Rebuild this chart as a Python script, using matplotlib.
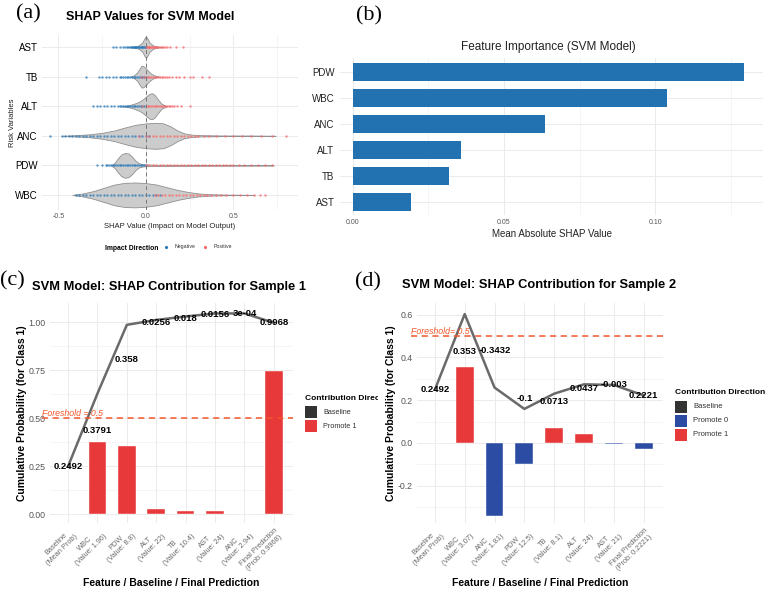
import matplotlib
matplotlib.use('Agg')
import matplotlib.pyplot as plt
from matplotlib.patches import Rectangle
from matplotlib.lines import Line2D
from matplotlib.transforms import Bbox, TransformedBbox, blended_transform_factory
import numpy as np

plt.rcParams['font.family'] = ['Liberation Sans', 'DejaVu Sans']

# ---------------- data ----------------
# (a) SHAP beeswarm / violin
shap_features = ['AST', 'TB', 'ALT', 'ANC', 'PDW', 'WBC']
ast_vx = [-0.10, -0.06, -0.04, -0.02, -0.01, 0.0, 0.01, 0.02, 0.04, 0.06, 0.10]
ast_vw = [0.0, 0.02, 0.06, 0.16, 0.28, 0.37, 0.28, 0.16, 0.06, 0.02, 0.0]
tb_vx = [-0.09, -0.07, -0.05, -0.035, -0.025, -0.015, 0.0, 0.015, 0.03, 0.045, 0.06, 0.08]
tb_vw = [0.0, 0.04, 0.14, 0.28, 0.37, 0.36, 0.28, 0.18, 0.10, 0.05, 0.02, 0.0]
alt_vx = [-0.14, -0.10, -0.07, -0.04, -0.02, 0.0, 0.02, 0.035, 0.05, 0.07, 0.09, 0.12]
alt_vw = [0.0, 0.03, 0.08, 0.15, 0.22, 0.32, 0.42, 0.44, 0.38, 0.22, 0.08, 0.0]
anc_vx = [-0.48, -0.40, -0.32, -0.25, -0.18, -0.12, -0.06, 0.0, 0.06, 0.10, 0.14, 0.18, 0.22, 0.26, 0.32, 0.45, 0.60, 0.74]
anc_vw = [0.0, 0.02, 0.05, 0.10, 0.18, 0.28, 0.37, 0.42, 0.44, 0.42, 0.32, 0.18, 0.08, 0.04, 0.02, 0.01, 0.01, 0.0]
pdw_vx = [-0.20, -0.18, -0.16, -0.14, -0.12, -0.10, -0.08, -0.06, -0.04, -0.02, 0.0, 0.05, 0.2, 0.4, 0.6, 0.73]
pdw_vw = [0.0, 0.08, 0.24, 0.37, 0.42, 0.40, 0.30, 0.16, 0.07, 0.04, 0.03, 0.02, 0.015, 0.012, 0.01, 0.0]
wbc_vx = [-0.42, -0.36, -0.30, -0.24, -0.18, -0.12, -0.06, 0.0, 0.06, 0.12, 0.18, 0.24, 0.30, 0.36, 0.45, 0.55, 0.62]
wbc_vw = [0.0, 0.05, 0.13, 0.24, 0.35, 0.41, 0.42, 0.40, 0.35, 0.26, 0.17, 0.10, 0.05, 0.025, 0.01, 0.005, 0.0]

ast_neg = [-0.19, -0.17, -0.15, -0.13, -0.12, -0.11, -0.10, -0.09, -0.085, -0.08, -0.075, -0.07, -0.065, -0.06,
           -0.055, -0.05, -0.045, -0.04, -0.035, -0.03, -0.025, -0.02, -0.015, -0.01, -0.005, 0.0]
ast_pos = [0.0, 0.005, 0.01, 0.015, 0.02, 0.025, 0.03, 0.035, 0.04, 0.045, 0.05, 0.06, 0.065, 0.07, 0.08, 0.09,
           0.1, 0.11, 0.12, 0.14, 0.17, 0.21]
tb_neg = [-0.34, -0.27, -0.25, -0.23, -0.21, -0.19, -0.17, -0.15, -0.14, -0.13, -0.12, -0.11, -0.10, -0.09,
          -0.08, -0.07, -0.06, -0.05, -0.04, -0.03, -0.02, -0.01, 0.0]
tb_pos = [-0.03, -0.01, 0.0, 0.01, 0.02, 0.03, 0.04, 0.05, 0.06, 0.07, 0.08, 0.09, 0.10, 0.11, 0.12, 0.13,
          0.15, 0.17, 0.19, 0.22, 0.25, 0.27, 0.32, 0.36]
alt_neg = [-0.30, -0.28, -0.26, -0.24, -0.22, -0.20, -0.18, -0.16, -0.15, -0.14, -0.13, -0.12, -0.11, -0.10,
           -0.09, -0.08, -0.07, -0.06, -0.05, -0.04, -0.03, -0.02, -0.01]
alt_pos = [-0.02, 0.0, 0.01, 0.02, 0.03, 0.04, 0.05, 0.06, 0.07, 0.08, 0.09, 0.10, 0.11, 0.12, 0.13, 0.14,
           0.15, 0.16, 0.18, 0.20, 0.25]
anc_neg = [-0.55, -0.48, -0.46, -0.44, -0.42, -0.40, -0.38, -0.36, -0.34, -0.32, -0.30, -0.28, -0.26, -0.24,
           -0.22, -0.20, -0.18, -0.16, -0.14, -0.12, -0.10, -0.08, -0.06, -0.04, -0.02, 0.0, 0.02]
anc_pos = [-0.04, 0.0, 0.02, 0.04, 0.06, 0.08, 0.10, 0.12, 0.14, 0.16, 0.18, 0.20, 0.22, 0.24, 0.26, 0.28,
           0.30, 0.33, 0.36, 0.40, 0.45, 0.50, 0.55, 0.60, 0.66, 0.72, 0.80]
pdw_neg = [-0.28, -0.25, -0.23, -0.22, -0.21, -0.20, -0.19, -0.18, -0.17, -0.16, -0.15, -0.14, -0.13, -0.12,
           -0.11, -0.10, -0.09, -0.08, -0.07, -0.06, -0.05, -0.04, -0.03, -0.02, -0.01, 0.0]
pdw_pos = [0.0, 0.02, 0.04, 0.06, 0.08, 0.10, 0.12, 0.14, 0.16, 0.18, 0.20, 0.22, 0.24, 0.26, 0.28, 0.30,
           0.32, 0.34, 0.36, 0.38, 0.40, 0.42, 0.44, 0.46, 0.48, 0.50, 0.53, 0.56, 0.60, 0.64, 0.68, 0.72]
wbc_neg = [-0.40, -0.38, -0.36, -0.34, -0.32, -0.30, -0.28, -0.26, -0.24, -0.22, -0.20, -0.18, -0.16, -0.14,
           -0.12, -0.10, -0.08, -0.06, -0.04, -0.02, 0.0, 0.02, 0.04, 0.06, 0.08]
wbc_pos = [0.05, 0.07, 0.09, 0.11, 0.13, 0.15, 0.17, 0.19, 0.21, 0.23, 0.25, 0.27, 0.29, 0.31, 0.33, 0.35,
           0.37, 0.40, 0.43, 0.46, 0.50, 0.54, 0.58, 0.62, 0.65, 0.68]

violin_x = {'AST': ast_vx, 'TB': tb_vx, 'ALT': alt_vx, 'ANC': anc_vx, 'PDW': pdw_vx, 'WBC': wbc_vx}
violin_w = {'AST': ast_vw, 'TB': tb_vw, 'ALT': alt_vw, 'ANC': anc_vw, 'PDW': pdw_vw, 'WBC': wbc_vw}
points_neg = {'AST': ast_neg, 'TB': tb_neg, 'ALT': alt_neg, 'ANC': anc_neg, 'PDW': pdw_neg, 'WBC': wbc_neg}
points_pos = {'AST': ast_pos, 'TB': tb_pos, 'ALT': alt_pos, 'ANC': anc_pos, 'PDW': pdw_pos, 'WBC': wbc_pos}

# (b) feature importance
imp_features = ['PDW', 'WBC', 'ANC', 'ALT', 'TB', 'AST']
imp_values = [0.1294, 0.1038, 0.0637, 0.0357, 0.0317, 0.0192]

# (c) waterfall sample 1
s1_labels = ['Baseline\n(Mean Prob)', 'WBC\n(Value: 1.96)', 'PDW\n(Value: 8.8)', 'ALT\n(Value: 22)',
             'TB\n(Value: 10.4)', 'AST\n(Value: 24)', 'ANC\n(Value: 2.94)', 'Final Prediction\n(Prob: 0.9968)']
s1_baseline = 0.2492
s1_contrib = [0.3791, 0.358, 0.0256, 0.018, 0.0156, 0.0003]
s1_final = 0.9968

# (d) waterfall sample 2
s2_labels = ['Baseline\n(Mean Prob)', 'WBC\n(Value: 3.07)', 'ANC\n(Value: 1.81)', 'PDW\n(Value: 12.5)',
             'TB\n(Value: 8.1)', 'ALT\n(Value: 24)', 'AST\n(Value: 21)', 'Final Prediction\n(Prob: 0.2221)']
s2_baseline = 0.2492
s2_contrib = [0.353, -0.3432, -0.1, 0.0713, 0.0437, -0.003]
s2_final = 0.2221

threshold = 0.5

# ---------------- layout helpers ----------------
W, H = 767, 590
fig = plt.figure(figsize=(W / 100, H / 100), dpi=100)


def axrect(l, t, r, b):
    return [l / W, 1 - b / H, (r - l) / W, (b - t) / H]


def fx(px):
    return px / W


def fy(py):
    return 1 - py / H


GRID = '#ebebeb'
BLUE_PT = '#2b7bba'
RED_PT = '#f8696b'
RED = '#e8393a'
BLUE = '#2c4ca3'
DARK = '#333333'
THR = '#f2572b'


def minimal(ax):
    for s in ax.spines.values():
        s.set_visible(False)
    ax.tick_params(length=0, which='both')
    ax.set_axisbelow(True)


# ---------------- panel (a) ----------------
axa = fig.add_axes(axrect(42, 35, 298, 210))
minimal(axa)
n = len(shap_features)
for i, f in enumerate(shap_features):
    y = n - i
    xs = np.array(violin_x[f])
    ws = np.array(violin_w[f])
    axa.fill_between(xs, y - ws, y + ws, facecolor='#cccccc', edgecolor='#8f8f8f', lw=0.6, zorder=2)
    axa.scatter(points_neg[f], [y] * len(points_neg[f]), s=3, c=BLUE_PT, alpha=0.75, lw=0, zorder=3)
    axa.scatter(points_pos[f], [y] * len(points_pos[f]), s=3, c=RED_PT, alpha=0.75, lw=0, zorder=3)
axa.axvline(0, color='#777777', lw=0.7, ls=(0, (4, 3)), zorder=4)
axa.set_xlim(-0.594, 0.869)
axa.set_ylim(0.49, 6.41)
axa.set_xticks([-0.5, 0.0, 0.5])
axa.set_xticklabels(['-0.5', '0.0', '0.5'])
axa.set_xticks([-0.25, 0.25, 0.75], minor=True)
axa.set_yticks(range(1, n + 1))
axa.set_yticklabels(shap_features[::-1])
axa.grid(True, which='major', color=GRID, lw=0.7)
axa.grid(True, which='minor', axis='x', color='#f2f2f2', lw=0.5)
axa.tick_params(axis='y', labelsize=7, colors='black', pad=3)
axa.tick_params(axis='x', labelsize=5, labelcolor='#555555', pad=2)
axa.set_xlabel('SHAP Value (Impact on Model Output)', fontsize=5.5, labelpad=2, color='#222222')
axa.set_ylabel('Risk Variables', fontsize=5.5, labelpad=0, color='#222222')
axa.yaxis.set_label_coords(-0.1, 0.5)
fig.text(fx(150), fy(17), 'SHAP Values for SVM Model', fontsize=9, fontweight='bold', ha='center', va='center')
fig.text(fx(105), fy(248), 'Impact Direction', fontsize=4.9, fontweight='bold', ha='left', va='center')
fig.add_artist(Line2D([fx(166)], [fy(247)], marker='o', ms=1.3, color=BLUE_PT, lw=0, transform=fig.transFigure))
fig.text(fx(175), fy(247), 'Negative', fontsize=3.8, ha='left', va='center', color='#333333')
fig.add_artist(Line2D([fx(205)], [fy(247)], marker='o', ms=1.3, color=RED_PT, lw=0, transform=fig.transFigure))
fig.text(fx(214), fy(247), 'Positive', fontsize=3.8, ha='left', va='center', color='#333333')

# ---------------- panel (b) ----------------
axb = fig.add_axes(axrect(340, 58, 763, 215))
minimal(axb)
ypos = np.arange(len(imp_features))[::-1] + 1
axb.barh(ypos, imp_values, height=0.68, color='#2271b1', zorder=2)
axb.set_yticks(ypos)
axb.set_yticklabels(imp_features)
axb.set_xlim(-0.0042, 0.1356)
axb.set_ylim(0.5, 6.54)
axb.set_xticks([0.0, 0.05, 0.10])
axb.set_xticklabels(['0.00', '0.05', '0.10'])
axb.set_xticks([0.025, 0.075, 0.125], minor=True)
axb.grid(True, which='major', color=GRID, lw=0.7)
axb.grid(True, which='minor', axis='x', color='#f2f2f2', lw=0.5)
axb.tick_params(axis='y', labelsize=7, colors='#222222', pad=4)
axb.tick_params(axis='x', labelsize=5, labelcolor='#555555', pad=3)
axb.set_xlabel('Mean Absolute SHAP Value', fontsize=7, labelpad=2, color='#222222')
fig.text(fx(548), fy(47), 'Feature Importance (SVM Model)', fontsize=8.5, ha='center', va='center', color='#222222')


# ---------------- panels (c) and (d) ----------------
def fmt(v):
    if v != 0 and abs(v) < 1e-3:
        return '%.0e' % v
    return '%.4g' % v


def waterfall(ax, labels, baseline, contrib, final, ylim, yticks, yticklabels, yminor, thr_text, xlim,
              thr_start):
    minimal(ax)
    contrib = list(contrib)
    bar_vals = [0.0] + contrib + [final - baseline]
    colors = [DARK] + [RED if v > 0 else BLUE for v in contrib] + [RED if final - baseline > 0 else BLUE]
    xs = np.arange(len(bar_vals))
    ax.bar(xs, bar_vals, width=0.6, color=colors, edgecolor='white', lw=0.3, zorder=2)
    cum = baseline + np.cumsum(contrib)
    line_y = [baseline] + list(cum) + [final]
    ax.plot(xs, line_y, color='#6a6a6a', lw=1.8, zorder=3, solid_joinstyle='round')
    tr = blended_transform_factory(ax.transAxes, ax.transData)
    ax.plot([thr_start, 1.0], [threshold, threshold], transform=tr, color=THR, lw=1.1, ls=(0, (4, 3)),
            zorder=3, clip_on=False)
    # value labels
    prev = [baseline] + list(cum[:-1])
    ax.text(0, baseline, fmt(baseline), ha='center', va='center', fontsize=6.8, fontweight='bold', zorder=5)
    for i, v in enumerate(contrib):
        ax.text(i + 1, (prev[i] + cum[i]) / 2, fmt(v), ha='center', va='center', fontsize=6.8,
                fontweight='bold', zorder=5)
    ax.text(len(bar_vals) - 1, final, fmt(final), ha='center', va='center', fontsize=6.8,
            fontweight='bold', zorder=5)
    ax.set_xlim(*xlim)
    ax.set_ylim(*ylim)
    ax.set_xticks(xs)
    ax.set_xticklabels(labels, rotation=45, ha='right', va='top', rotation_mode='anchor',
                       fontsize=5.3, color='#6a6a6a', multialignment='center')
    ax.set_yticks(yticks)
    ax.set_yticklabels(yticklabels)
    ax.set_yticks(yminor, minor=True)
    ax.grid(True, which='major', color=GRID, lw=0.7)
    ax.grid(True, which='minor', axis='y', color='#f2f2f2', lw=0.5)
    ax.tick_params(axis='y', labelsize=6.3, labelcolor='#555555', pad=3)
    ax.tick_params(axis='x', pad=3)
    ax.set_xlabel('Feature / Baseline / Final Prediction', fontsize=7.5, fontweight='bold', labelpad=3)
    ax.set_ylabel('Cumulative Probability (for Class 1)', fontsize=7.5, fontweight='bold', labelpad=1.5)
    ax.text(thr_start, threshold, thr_text, transform=tr, ha='left', va='bottom',
            fontsize=6.3, style='italic', color=THR, zorder=5, clip_on=False)


axc = fig.add_axes(axrect(50, 303, 293, 523))
waterfall(axc, s1_labels, s1_baseline, s1_contrib, s1_final, (-0.045, 1.10),
          [0.0, 0.25, 0.5, 0.75, 1.0], ['0.00', '0.25', '0.50', '0.75', '1.00'],
          [0.125, 0.375, 0.625, 0.875], 'Foreshold = 0.5', (-0.612, 7.65), -8 / 243)

axd = fig.add_axes(axrect(417, 303, 663, 523))
waterfall(axd, s2_labels, s2_baseline, s2_contrib, s2_final, (-0.374, 0.654),
          [-0.2, 0.0, 0.2, 0.4, 0.6], ['-0.2', '0.0', '0.2', '0.4', '0.6'],
          [-0.3, -0.1, 0.1, 0.3, 0.5], 'Foreshold= 0.5', (-0.6, 7.65), -6 / 246)

fig.text(fx(32), fy(287), 'SVM Model: SHAP Contribution for Sample 1', fontsize=9.3, fontweight='bold',
         ha='left', va='center')
fig.text(fx(402), fy(285), 'SVM Model: SHAP Contribution for Sample 2', fontsize=9.3, fontweight='bold',
         ha='left', va='center')

# legends for (c) (cut off by the panel edge, as in the source) and (d)
clip = TransformedBbox(Bbox.from_extents(0, 0, 378 / W, 1), fig.transFigure)
t = fig.text(fx(305), fy(398), 'Contribution Directio', fontsize=6, fontweight='bold', ha='left', va='center')
t.set_clip_box(clip)
t.set_clip_on(True)
for yc, col, lab in [(412, DARK, 'Baseline'), (426, RED, 'Promote 1')]:
    fig.add_artist(Rectangle((fx(305), fy(yc + 6)), 12 / W, 12 / H, transform=fig.transFigure,
                             facecolor=col, edgecolor='none'))
    fig.text(fx(323), fy(yc), lab, fontsize=5.2, ha='left', va='center', color='#333333')

fig.text(fx(675), fy(392.5), 'Contribution Direction', fontsize=6, fontweight='bold', ha='left', va='center')
for yc, col, lab in [(407, DARK, 'Baseline'), (421, BLUE, 'Promote 0'), (435, RED, 'Promote 1')]:
    fig.add_artist(Rectangle((fx(675), fy(yc + 6)), 12 / W, 12 / H, transform=fig.transFigure,
                             facecolor=col, edgecolor='none'))
    fig.text(fx(693), fy(yc), lab, fontsize=5.5, ha='left', va='center', color='#333333')

# panel letters
for x, y, s in [(16, 14, '(a)'), (356, 16, '(b)'), (0, 281, '(c)'), (355, 282, '(d)')]:
    fig.text(fx(x), fy(y), s, family=['Liberation Serif', 'DejaVu Serif'], fontsize=16, ha='left', va='center')

fig.savefig('out.png', dpi=100)
